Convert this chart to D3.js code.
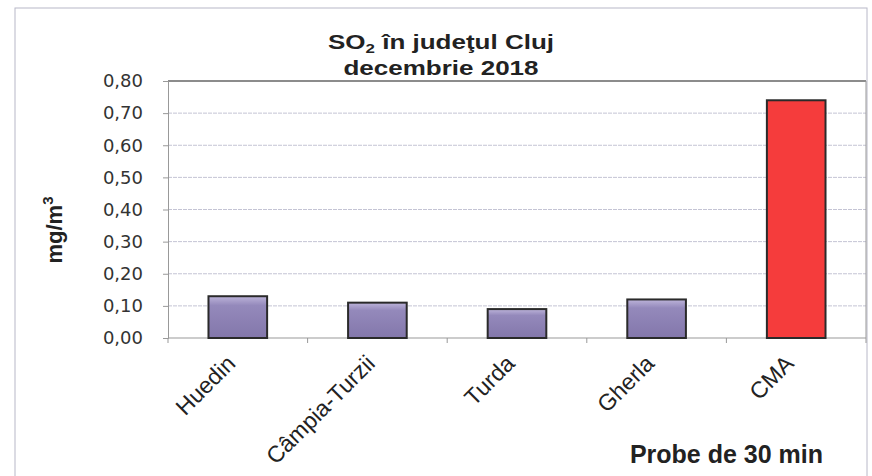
<!DOCTYPE html>
<html>
<head>
<meta charset="utf-8">
<script src="https://cdn.jsdelivr.net/npm/d3@7"></script>
<style>
  body { margin: 0; background: #fff; }
  text { font-family: "Liberation Sans", Arial, sans-serif; }
</style>
</head>
<body>
<svg id="svg1" width="872" height="476"></svg>
<script>
"use strict";

// data
const stations = ["Huedin", "Câmpia-Turzii", "Turda", "Gherla", "CMA"];
const so2Values = [0.13, 0.11, 0.09, 0.12, 0.74];
const yTicks = [0, 0.1, 0.2, 0.3, 0.4, 0.5, 0.6, 0.7, 0.8];

const svg = d3.select("#svg1");
const margin = {top: 81, right: 6, bottom: 138, left: 168};
const width = 872 - margin.left - margin.right,
      height = 476 - margin.top - margin.bottom;

// outer frame of the chart
svg.append("rect")
  .attr("x", 15).attr("y", 8)
  .attr("width", 852).attr("height", 480)
  .attr("fill", "none").attr("stroke", "#b8b8c8").attr("stroke-width", 1);

const defs = svg.append("defs");
const purple = defs.append("linearGradient").attr("id", "gPurple")
  .attr("x1", 0).attr("y1", 0).attr("x2", 0).attr("y2", 1);
purple.append("stop").attr("offset", "0%").attr("stop-color", "#bdb4da");
purple.append("stop").attr("offset", "22%").attr("stop-color", "#9489bb");
purple.append("stop").attr("offset", "100%").attr("stop-color", "#8377ab");

const x = d3.scaleBand().domain(stations).range([0, width]).paddingInner(0.58).paddingOuter(0.29);
const y = d3.scaleLinear().domain([0, 0.8]).range([height, 0]);

const g = svg.append("g").attr("transform", `translate(${margin.left},${margin.top})`);

// gridlines
g.append("g")
  .selectAll("line")
  .data(yTicks.slice(1))
  .enter().append("line")
  .attr("x1", 0).attr("x2", width)
  .attr("y1", d => y(d)).attr("y2", d => y(d))
  .attr("stroke", d => d === 0.8 ? "#666" : "#c4c4d4")
  .attr("stroke-width", d => d === 0.8 ? 1.5 : 1)
  .attr("stroke-dasharray", d => d === 0.8 ? null : "4,1");

// right border of the plot area
g.append("line")
  .attr("x1", width).attr("x2", width).attr("y1", 0).attr("y2", height)
  .attr("stroke", "#999");

// y axis
const yAxis = g.append("g")
  .call(d3.axisLeft(y).tickValues(yTicks).tickSize(5).tickPadding(20)
    .tickFormat(d => d3.format(".2f")(d).replace(".", ",")));
yAxis.select(".domain").attr("stroke", "#999");
yAxis.selectAll(".tick line").attr("stroke", "#999");
yAxis.selectAll(".tick text")
  .attr("font-size", 18).attr("fill", "#333")
  .style("font-family", "'DejaVu Sans', Verdana, sans-serif");

// x axis with ticks between categories
const xAxis = g.append("g").attr("transform", `translate(0,${height})`);
xAxis.append("line").attr("x1", 0).attr("x2", width).attr("stroke", "#999");
xAxis.selectAll(".sep")
  .data(d3.range(stations.length + 1))
  .enter().append("line")
  .attr("x1", i => i * width / stations.length)
  .attr("x2", i => i * width / stations.length)
  .attr("y1", 0).attr("y2", 5)
  .attr("stroke", "#999");

xAxis.selectAll(".lbl")
  .data(stations)
  .enter().append("text")
  .attr("transform", d => `translate(${x(d) + x.bandwidth() / 2 - 1},${27}) rotate(-45)`)
  .attr("text-anchor", "end")
  .attr("font-size", 23)
  .attr("fill", "#222")
  .text(d => d);

// bars
g.selectAll(".bar")
  .data(stations)
  .enter().append("rect")
  .attr("class", "bar")
  .attr("x", d => x(d))
  .attr("y", (d, i) => y(so2Values[i]))
  .attr("width", x.bandwidth())
  .attr("height", (d, i) => height - y(so2Values[i]))
  .attr("fill", d => d === "CMA" ? "#f53c3c" : "url(#gPurple)")
  .attr("stroke", "#2a2a2a")
  .attr("stroke-width", 2);

// title (slightly stretched, like the scanned original)
const title = svg.append("text")
  .attr("transform", "translate(441,49) scale(1.3,1)")
  .attr("text-anchor", "middle")
  .attr("font-size", 20).attr("font-weight", "bold").attr("fill", "#222");
title.append("tspan").text("SO");
title.append("tspan").attr("font-size", 13).attr("dy", 4).text("2");
title.append("tspan").attr("dy", -4).text(" în judeţul Cluj");
svg.append("text")
  .attr("transform", "translate(441,75) scale(1.3,1)")
  .attr("text-anchor", "middle")
  .attr("font-size", 20).attr("font-weight", "bold").attr("fill", "#222")
  .text("decembrie 2018");

// y axis title
const yTitle = svg.append("text")
  .attr("transform", "translate(62,230) rotate(-90)")
  .attr("text-anchor", "middle")
  .attr("font-size", 22).attr("font-weight", "bold").attr("fill", "#222");
yTitle.append("tspan").text("mg/m");
yTitle.append("tspan").attr("font-size", 15).attr("dy", -9).text("3");

// x axis title
svg.append("text")
  .attr("x", 823).attr("y", 463)
  .attr("text-anchor", "end")
  .attr("font-size", 25).attr("font-weight", "bold").attr("fill", "#222")
  .text("Probe de 30 min");
</script>
</body>
</html>
